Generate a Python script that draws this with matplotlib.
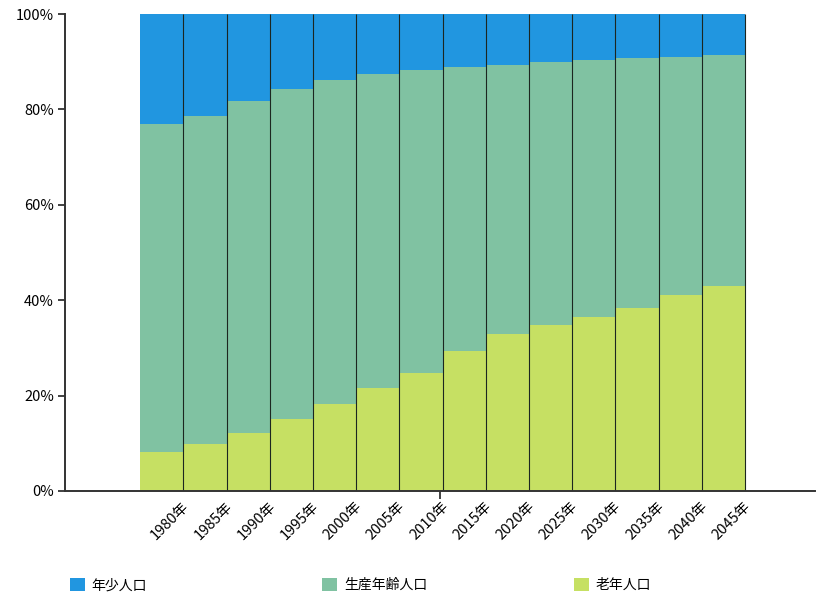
import numpy as np
import matplotlib
matplotlib.use("Agg")
import matplotlib.pyplot as plt
from matplotlib.patches import Patch
from matplotlib.ticker import PercentFormatter
import matplotlib.transforms as mtrans

plt.rcParams['font.family'] = ['Noto Sans CJK JP', 'DejaVu Sans']

years = ["1980年", "1985年", "1990年", "1995年", "2000年", "2005年", "2010年",
         "2015年", "2020年", "2025年", "2030年", "2035年", "2040年", "2045年"]
# 年齢3区分別人口の構成比 (%)
young = [23.1, 21.4, 18.2, 15.7, 13.8, 12.6, 11.7, 11.1, 10.7, 10.1, 9.6, 9.2, 9.0, 8.6]
elderly = [8.2, 9.9, 12.2, 15.1, 18.2, 21.6, 24.7, 29.4, 32.9, 34.8, 36.5, 38.4, 41.1, 43.0]
working = [round(100 - y - e, 1) for y, e in zip(young, elderly)]

series_names = ["年少人口", "生産年齢人口", "老年人口"]
colors = ["#2196E0", "#80C2A2", "#C6E063"]

fig = plt.figure(figsize=(8.16, 5.98), dpi=100)
ax = fig.add_axes([65 / 816, 1 - 491 / 598, 750 / 816, 477 / 598])

x = np.arange(len(years))
kw = dict(width=1.0, edgecolor="none", linewidth=0)
ax.bar(x, elderly, color=colors[2], **kw)
ax.bar(x, working, bottom=elderly, color=colors[1], **kw)
ax.bar(x, young, bottom=np.add(elderly, working), color=colors[0], **kw)
# 棒の間の区切り線（縦線のみ）
ax.vlines(x + 0.5, 0, 100, colors="#1c2620", linewidth=0.8, zorder=3)

ax.set_xlim(-2.24, 15.12)
ax.set_ylim(0, 100)
ax.set_yticks([0, 20, 40, 60, 80, 100])
ax.yaxis.set_major_formatter(PercentFormatter(decimals=0))
ax.tick_params(axis="y", length=5, width=1.3, color="#333333", labelsize=10.5, pad=3)

ax.set_xticks(x)
ax.set_xticklabels(years, rotation=45, ha="right", rotation_mode="anchor", fontsize=10.5)
ax.tick_params(axis="x", length=0, pad=6)
shift = mtrans.ScaledTranslation(20 / 100, 0, fig.dpi_scale_trans)
for lab in ax.get_xticklabels():
    lab.set_transform(lab.get_transform() + shift)
ax.set_xticks([np.mean(ax.get_xlim())], minor=True)
ax.tick_params(axis="x", which="minor", length=6, width=1.3, color="#333333")

for side in ["top", "right"]:
    ax.spines[side].set_visible(False)
for side in ["left", "bottom"]:
    ax.spines[side].set_linewidth(1.4)
    ax.spines[side].set_color("#333333")
    ax.spines[side].set_zorder(4)

# 凡例は3つを横に等間隔で並べる
for i, (name, c) in enumerate(zip(series_names, colors)):
    fig.legend(handles=[Patch(facecolor=c, edgecolor="none")], labels=[name],
               loc="center left", bbox_to_anchor=((64 + 252 * i) / 816, 1 - 585 / 598),
               frameon=False, fontsize=10, handlelength=1.1, handleheight=1.1,
               handletextpad=0.5, borderaxespad=0)

fig.savefig("out.png", dpi=100)
